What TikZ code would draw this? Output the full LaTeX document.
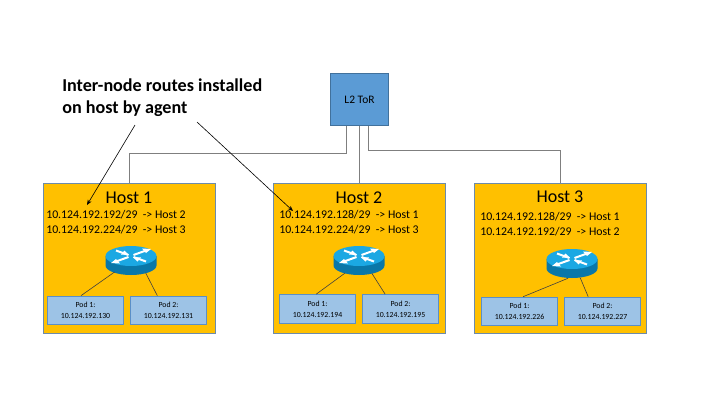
\documentclass[tikz,border=0pt]{standalone}
\usepackage{fontspec}
\setmainfont{Carlito}
\usetikzlibrary{arrows.meta,positioning,shapes.geometric}
\definecolor{HostGold}{HTML}{FFC000}
\definecolor{HostEdge}{HTML}{6C8BAA}
\definecolor{TorBlue}{HTML}{5B9BD5}
\definecolor{TorEdge}{HTML}{41719C}
\definecolor{PodBlue}{HTML}{9DC3E6}
\definecolor{PodEdge}{HTML}{5B8FC7}
\definecolor{RouterTop}{HTML}{1BA8E3}
\definecolor{RouterSide}{HTML}{0A77A8}
\definecolor{WireGray}{HTML}{7F7F7F}
\tikzset{
  hostbox/.style={draw=HostEdge,fill=HostGold,line width=0.75pt,minimum width=129pt,minimum height=112.5pt,inner sep=0pt},
  torbox/.style={draw=TorEdge,fill=TorBlue,line width=0.75pt,minimum width=44pt,minimum height=39.5pt,inner sep=0pt,font=\fontsize{8.6}{10}\selectfont},
  podbox/.style={draw=PodEdge,fill=PodBlue,line width=0.75pt,minimum width=57pt,minimum height=21.5pt,inner sep=0pt,align=center,font=\fontsize{5.85}{8}\selectfont},
  hosttitle/.style={font=\fontsize{13.5}{15}\selectfont,inner sep=0pt},
  routetext/.style={align=left,inner sep=0pt,font=\fontsize{8.85}{11}\selectfont},
  notetext/.style={align=left,inner sep=0pt,font=\fontsize{13.6}{16}\selectfont\bfseries},
  routernode/.style={ellipse,minimum width=38pt,minimum height=22pt,inner sep=0pt},
  trunk/.style={draw=WireGray,line width=0.75pt},
  podlink/.style={draw=black!75,line width=0.45pt},
  notearrow/.style={-{Stealth[length=4pt,width=3.2pt]},draw=black,line width=0.45pt},
  routericon/.pic={
    \fill[RouterSide] (-25.5,-4.5) -- (-25.5,5) arc[start angle=180,end angle=360,x radius=25.5,y radius=-9.5] -- (25.5,-4.5) -- cycle;
    \fill[RouterTop] (0,-4.5) ellipse[x radius=25.5,y radius=10];
    \foreach \sx/\sy in {1/1,-1/1,1/-1,-1/-1}{
      \draw[white,line width=1.5pt] (\sx*2.5,\sy*-1-4.5) -- (\sx*15,\sy*-5.5-4.5);
    }
    % two heads pointing out, two pointing in
    \fill[white] (20,-11.5) -- (11,-12) -- (15,-7.5) -- cycle;
    \fill[white] (-20,2.5) -- (-11,3) -- (-15,-1.5) -- cycle;
    \fill[white] (-2,-5.5) -- (-10,-6) -- (-6.5,-10) -- cycle;
    \fill[white] (2,-3.5) -- (10,-3) -- (6.5,1) -- cycle;
  }
}
\begin{document}
\begin{tikzpicture}[x=0.75pt,y=-0.75pt,node distance=4.5pt]
\useasboundingbox[fill=white] (0,0) rectangle (717,404);
% switch and hosts
\node[torbox] (tor) at (359.5,99.5) {L2 ToR};
\node[hostbox] (hosta) at (129,258) {};
\node[hostbox] (hostb) at (359.5,258) {};
\node[hostbox] (hostc) at (560.5,258) {};
\coordinate (torleft) at (346,126);
\coordinate (torright) at (368.5,126);
\draw[trunk] (torleft) -- (346,153) -| (hosta.north);
\draw[trunk] (tor.south) -- (hostb.north);
\draw[trunk] (torright) -- (368.5,150) -| (hostc.north);
% titles
\node[hosttitle] (titlea) at (129,198) {Host 1};
\node[hosttitle] (titleb) at (359,198) {Host 2};
\node[hosttitle] (titlec) at (560,197) {Host 3};
\node[routetext,anchor=north west] (routea) at (46,210.5) {10.124.192.192/29\ \ -> Host 2\\10.124.192.224/29\ \ -> Host 3};
\node[routetext,anchor=north west] (routeb) at (279,210.5) {10.124.192.128/29\ \ -> Host 1\\10.124.192.224/29\ \ -> Host 3};
\node[routetext,anchor=north west] (routec) at (480,212.5) {10.124.192.128/29\ \ -> Host 1\\10.124.192.192/29\ \ -> Host 2};
% routers
\node[routernode] (routera) at (131,260.5) {};
\node[routernode] (routerb) at (359,260.5) {};
\node[routernode] (routerc) at (572,263.5) {};
\pic at (routera) {routericon};
\pic at (routerb) {routericon};
\pic at (routerc) {routericon};
% pods
\node[podbox] (poda) at (85.5,310.5) {Pod 1:\\10.124.192.130};
\node[podbox,right=of poda] (podb) {Pod 2:\\10.124.192.131};
\node[podbox] (podc) at (317.5,309) {Pod 1:\\10.124.192.194};
\node[podbox,right=of podc] (podd) {Pod 2:\\10.124.192.195};
\node[podbox] (pode) at (519.5,311.5) {Pod 1:\\10.124.192.226};
\node[podbox,right=of pode] (podf) {Pod 2:\\10.124.192.227};
\draw[podlink] (routera.215) -- (poda.107);
\draw[podlink] (routera.320) -- (podb.127);
\draw[podlink] (routerb.222) -- (podc.95);
\draw[podlink] (routerb.315) -- (podd.136);
\draw[podlink] (routerc.255) -- (pode.76);
\draw[podlink] (routerc.300) -- (podf.134);
% note
\node[notetext,anchor=north west] (note) at (62,79) {Inter-node routes installed\\on host by agent};
\coordinate (tipa) at (87,205);
\coordinate (tipb) at (293,211);
\draw[notearrow] (135,125) -- (tipa);
\draw[notearrow] (197,122) -- (tipb);
\end{tikzpicture}
\end{document}
